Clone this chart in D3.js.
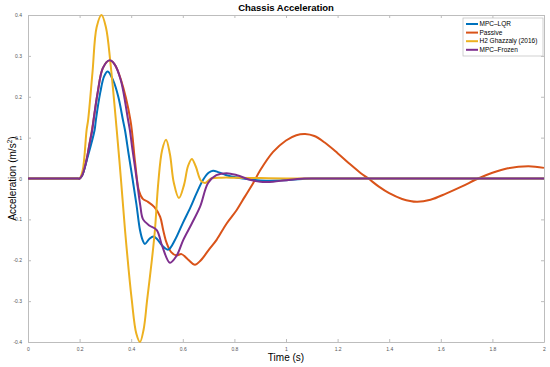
<!DOCTYPE html>
<html>
<head>
<meta charset="utf-8">
<script src="https://cdn.jsdelivr.net/npm/d3@7"></script>
<style>
  body { margin: 0; background: #fff; }
  text { font-family: "Liberation Sans", Arial, sans-serif; }
</style>
</head>
<body>
<div id="chart"></div>
<script>
// time samples (s) and acceleration (m/s^2) for each controller
var lqrT = [0, 0.05, 0.1, 0.15, 0.19, 0.2, 0.21, 0.23, 0.258, 0.263, 0.28, 0.295, 0.309, 0.33, 0.35, 0.368, 0.376, 0.39, 0.405, 0.42, 0.434, 0.445, 0.453, 0.47, 0.486, 0.5, 0.52, 0.544, 0.57, 0.6, 0.63, 0.654, 0.68, 0.7, 0.717, 0.74, 0.78, 0.833, 0.9, 1.0, 1.1, 1.2, 1.3, 1.4, 1.5, 1.6, 1.7, 1.8, 1.9, 2.0];
var lqrA = [0, 0, 0, 0, 0, 0, 0.008, 0.05, 0.118, 0.143, 0.21, 0.25, 0.262, 0.24, 0.2, 0.143, 0.118, 0.06, 0, -0.062, -0.126, -0.152, -0.16, -0.148, -0.142, -0.148, -0.164, -0.174, -0.15, -0.109, -0.07, -0.035, -0.002, 0.014, 0.019, 0.015, 0.006, 0, -0.005, -0.004, 0, 0, 0, 0, 0, 0, 0, 0, 0, 0];

var passiveT = [0, 0.05, 0.1, 0.15, 0.19, 0.2, 0.21, 0.225, 0.24, 0.254, 0.27, 0.29, 0.315, 0.335, 0.36, 0.397, 0.415, 0.43, 0.445, 0.465, 0.49, 0.512, 0.524, 0.537, 0.555, 0.575, 0.595, 0.62, 0.647, 0.67, 0.7, 0.731, 0.77, 0.809, 0.84, 0.873, 0.9, 0.95, 1.0, 1.04, 1.074, 1.11, 1.15, 1.2, 1.25, 1.29, 1.319, 1.36, 1.4, 1.45, 1.507, 1.56, 1.62, 1.68, 1.745, 1.8, 1.86, 1.94, 2.0];
var passiveA = [0, 0, 0, 0, 0, 0, 0.008, 0.04, 0.09, 0.143, 0.21, 0.27, 0.289, 0.28, 0.242, 0.143, 0.04, -0.03, -0.05, -0.057, -0.07, -0.093, -0.126, -0.157, -0.18, -0.188, -0.185, -0.198, -0.211, -0.2, -0.175, -0.15, -0.11, -0.077, -0.045, -0.011, 0.02, 0.065, 0.093, 0.106, 0.109, 0.104, 0.088, 0.062, 0.034, 0.013, 0, -0.02, -0.036, -0.05, -0.057, -0.052, -0.037, -0.02, 0, 0.014, 0.025, 0.03, 0.026];

var h2T = [0, 0.05, 0.1, 0.15, 0.19, 0.2, 0.212, 0.227, 0.233, 0.25, 0.266, 0.285, 0.302, 0.32, 0.344, 0.36, 0.376, 0.402, 0.42, 0.434, 0.448, 0.462, 0.48, 0.492, 0.505, 0.52, 0.535, 0.55, 0.565, 0.585, 0.605, 0.62, 0.635, 0.65, 0.67, 0.686, 0.71, 0.75, 0.8, 0.9, 1.0, 1.1, 1.2, 1.3, 1.4, 1.5, 1.6, 1.7, 1.8, 1.9, 2.0];
var h2A = [0, 0, 0, 0, 0, 0, 0.02, 0.118, 0.143, 0.26, 0.37, 0.4, 0.37, 0.28, 0.118, 0, -0.126, -0.296, -0.38, -0.4, -0.37, -0.296, -0.2, -0.126, -0.01, 0.07, 0.095, 0.06, -0.01, -0.048, -0.015, 0.03, 0.048, 0.03, -0.005, -0.011, 0, 0.002, 0.002, 0.001, 0, 0, 0, 0, 0, 0, 0, 0, 0, 0, 0];

var frozenT = [0, 0.05, 0.1, 0.15, 0.19, 0.2, 0.21, 0.225, 0.24, 0.249, 0.254, 0.27, 0.29, 0.315, 0.335, 0.36, 0.388, 0.395, 0.405, 0.421, 0.435, 0.446, 0.47, 0.499, 0.52, 0.55, 0.575, 0.602, 0.635, 0.667, 0.698, 0.73, 0.77, 0.81, 0.86, 0.9, 0.95, 1.0, 1.07, 1.15, 1.25, 1.35, 1.45, 1.55, 1.65, 1.75, 1.85, 1.95, 2.0];
var frozenA = [0, 0, 0, 0, 0, 0, 0.008, 0.04, 0.09, 0.118, 0.143, 0.21, 0.27, 0.289, 0.28, 0.24, 0.143, 0.118, 0.07, 0, -0.065, -0.1, -0.115, -0.126, -0.165, -0.206, -0.19, -0.15, -0.11, -0.069, -0.011, 0.008, 0.013, 0.008, -0.003, -0.008, -0.008, -0.004, 0, 0, 0, 0, 0, 0, 0, 0, 0, 0, 0];

var seriesNames = ["MPC\u2013LQR", "Passive", "H2 Ghazzaly (2016)", "MPC\u2013Frozen"];
var seriesColors = ["#0072BD", "#D95319", "#EDB120", "#7E2F8E"];

var xTicks = [0, 0.2, 0.4, 0.6, 0.8, 1, 1.2, 1.4, 1.6, 1.8, 2];
var yTicks = [-0.4, -0.3, -0.2, -0.1, 0, 0.1, 0.2, 0.3, 0.4];

function zipSeries(t, a) {
    return t.map(function(d, i) { return { t: d, a: a[i] }; });
}
// drawing order as in the figure: passive underneath, frozen on top
var series = [
    { name: seriesNames[1], color: seriesColors[1], values: zipSeries(passiveT, passiveA) },
    { name: seriesNames[0], color: seriesColors[0], values: zipSeries(lqrT, lqrA) },
    { name: seriesNames[2], color: seriesColors[2], values: zipSeries(h2T, h2A) },
    { name: seriesNames[3], color: seriesColors[3], values: zipSeries(frozenT, frozenA) }
];

var W = 550, H = 367;
var margin = { top: 15, right: 6, bottom: 25, left: 28 };
var width = W - margin.left - margin.right,
    height = H - margin.top - margin.bottom;

var svgRoot = d3.select("#chart").append("svg")
    .attr("width", W)
    .attr("height", H);

var svg = svgRoot.append("g")
    .attr("transform", "translate(" + margin.left + "," + margin.top + ")");

var x = d3.scaleLinear().domain([0, 2]).range([0, width]);
var y = d3.scaleLinear().domain([-0.4, 0.4]).range([height, 0]);

var fmt = function(d) { return d3.format("")(+d.toFixed(1)).replace("\u2212", "-"); };

// axes, MATLAB style: ticks pointing inward, box on
function styleAxis(g) {
    g.select(".domain").attr("stroke", "#bdbdbd");
    g.selectAll(".tick line").attr("stroke", "#bdbdbd");
    g.selectAll(".tick text").attr("fill", "#555").attr("font-size", 5);
}

svg.append("g")
    .attr("class", "myXaxis")
    .attr("transform", "translate(0," + height + ")")
    .call(d3.axisBottom(x).tickValues(xTicks).tickSizeInner(-3).tickSizeOuter(0).tickPadding(5).tickFormat(fmt))
    .call(styleAxis);

svg.append("g")
    .attr("class", "myYaxis")
    .call(d3.axisLeft(y).tickValues(yTicks).tickSizeInner(-3).tickSizeOuter(0).tickPadding(6).tickFormat(fmt))
    .call(styleAxis);

svg.append("g")
    .call(d3.axisTop(x).tickValues(xTicks).tickSizeInner(-3).tickSizeOuter(0).tickFormat(""))
    .call(styleAxis);

svg.append("g")
    .attr("transform", "translate(" + width + ",0)")
    .call(d3.axisRight(y).tickValues(yTicks).tickSizeInner(-3).tickSizeOuter(0).tickFormat(""))
    .call(styleAxis);

// curves
var line = d3.line()
    .x(function(d) { return x(d.t); })
    .y(function(d) { return y(d.a); })
    .curve(d3.curveCatmullRom.alpha(0.5));

svg.append("g")
    .selectAll("path.series")
    .data(series)
    .enter()
    .append("path")
    .attr("class", "series")
    .attr("fill", "none")
    .attr("stroke", function(d) { return d.color; })
    .attr("stroke-width", 2)
    .attr("stroke-linejoin", "round")
    .attr("d", function(d) { return line(d.values); });

// title and labels
svgRoot.append("text")
    .attr("x", margin.left + width / 2)
    .attr("y", 11)
    .attr("text-anchor", "middle")
    .attr("font-size", 9.5)
    .attr("font-weight", "bold")
    .text("Chassis Acceleration");

svgRoot.append("text")
    .attr("x", margin.left + width / 2)
    .attr("y", 361)
    .attr("text-anchor", "middle")
    .attr("font-size", 10)
    .text("Time (s)");

var yl = svgRoot.append("text")
    .attr("transform", "translate(16," + (margin.top + height / 2) + ") rotate(-90)")
    .attr("text-anchor", "middle")
    .attr("font-size", 10);
yl.append("tspan").text("Acceleration (m/s");
yl.append("tspan").attr("font-size", 6.5).attr("dy", -4).text("2");
yl.append("tspan").attr("dy", 4).text(")");

// legend
var legend = svgRoot.append("g")
    .attr("transform", "translate(463,18)");

legend.append("rect")
    .attr("width", 80)
    .attr("height", 38)
    .attr("fill", "#fff")
    .attr("stroke", "#bdbdbd")
    .attr("stroke-width", 0.7);

var items = legend.selectAll("g.item")
    .data(seriesNames)
    .enter()
    .append("g")
    .attr("class", "item")
    .attr("transform", function(d, i) { return "translate(0," + (6 + i * 8.6) + ")"; });

items.append("line")
    .attr("x1", 3).attr("x2", 15)
    .attr("stroke", function(d, i) { return seriesColors[i]; })
    .attr("stroke-width", 2);

items.append("text")
    .attr("x", 16.5)
    .attr("dy", "0.35em")
    .attr("font-size", 6.5)
    .text(function(d) { return d; });
</script>
</body>
</html>
